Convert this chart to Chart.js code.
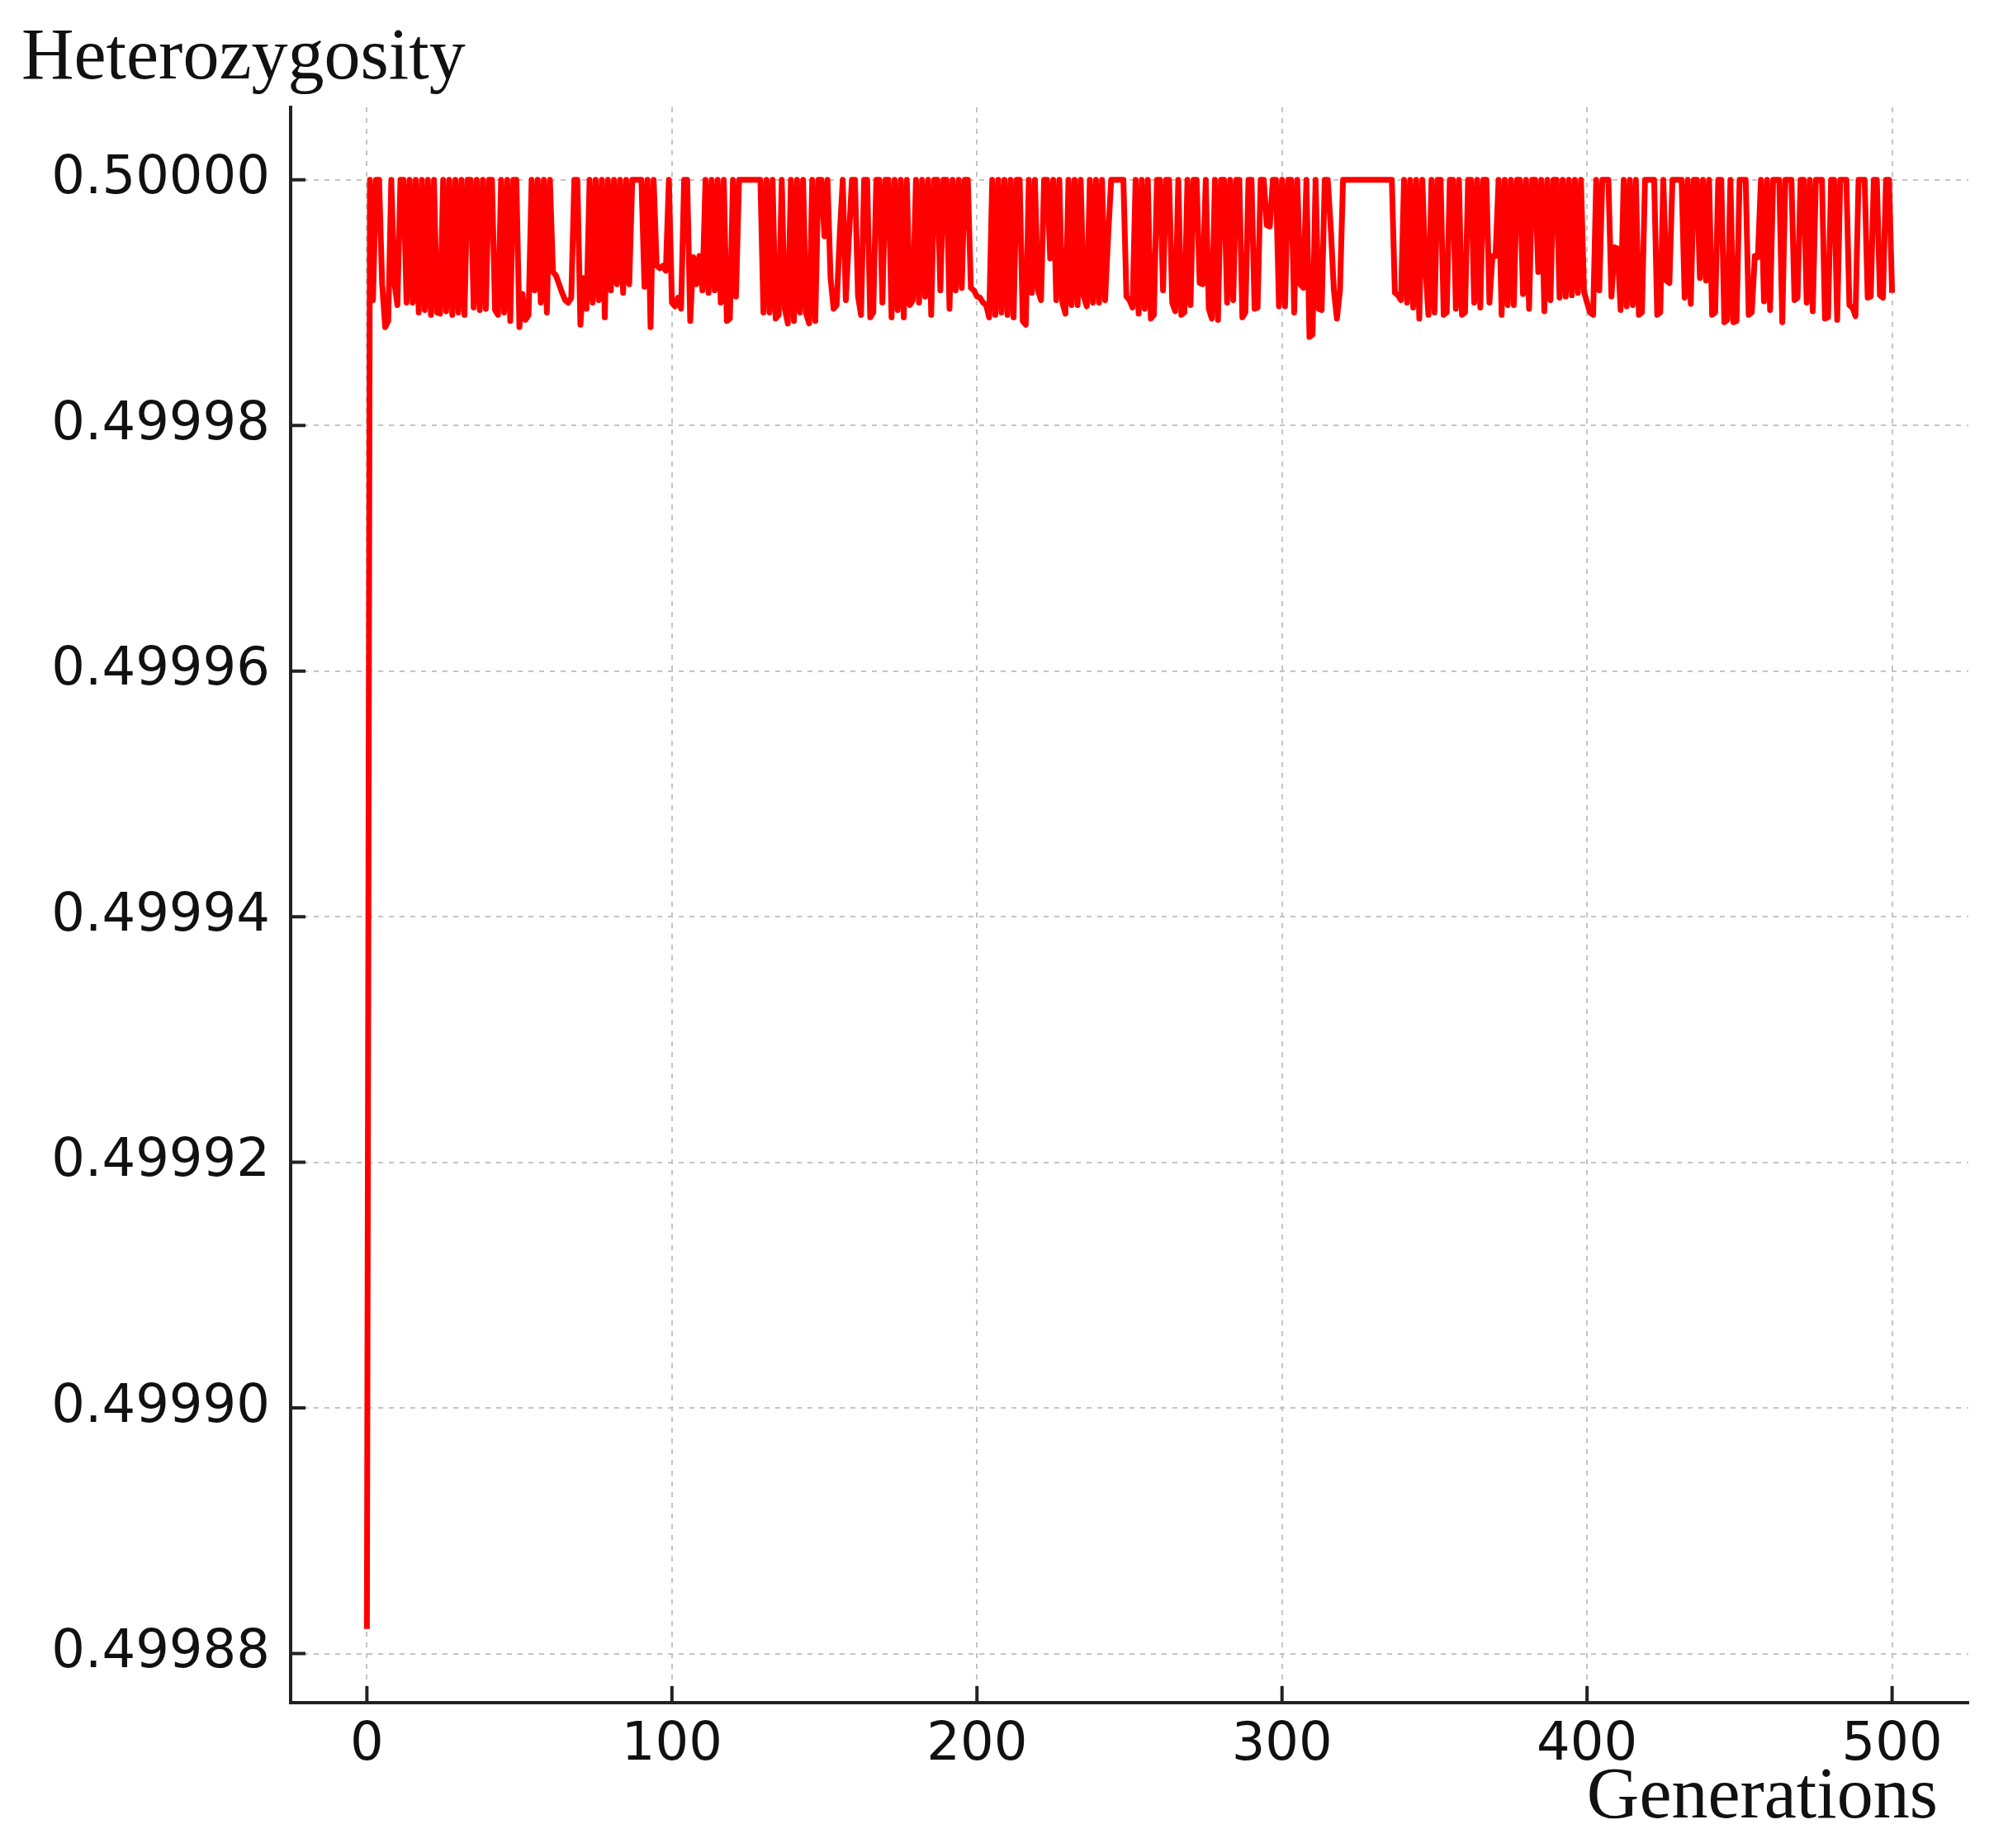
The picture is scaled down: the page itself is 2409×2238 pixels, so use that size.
<!DOCTYPE html>
<html>
<head>
<meta charset="utf-8">
<title>Heterozygosity</title>
<script src="https://cdn.jsdelivr.net/npm/chart.js@4.4.1/dist/chart.umd.min.js"></script>
<style>
  html, body { margin: 0; padding: 0; background: #ffffff; }
  canvas { display: block; }
</style>
</head>
<body>
<canvas id="chart" width="2409" height="2238" style="width:2409px;height:2238px;"></canvas>
<script>
// ---- Data ----
const yTitle = 'Heterozygosity';
const xTitle = 'Generations';

const xTicks = [0, 100, 200, 300, 400, 500];
const xTickLabels = ['0', '100', '200', '300', '400', '500'];
const yTicks = [0.49988, 0.49990, 0.49992, 0.49994, 0.49996, 0.49998, 0.50000];
const yTickLabels = ['0.49988', '0.49990', '0.49992', '0.49994', '0.49996', '0.49998', '0.50000'];

// Heterozygosity per generation, generations 0-99
const hetGen000 = [
  0.499882, 0.5, 0.4999902, 0.5, 0.5, 0.4999915, 0.499988, 0.4999885, 0.5, 0.4999917,
  0.4999898, 0.5, 0.5, 0.49999, 0.5, 0.49999, 0.5, 0.4999892, 0.5, 0.4999894,
  0.5, 0.499989, 0.5, 0.4999892, 0.4999891, 0.5, 0.4999893, 0.5, 0.499989, 0.5,
  0.4999892, 0.5, 0.499989, 0.5, 0.5, 0.4999896, 0.5, 0.4999894, 0.5, 0.4999895,
  0.5, 0.5, 0.4999894, 0.499989, 0.5, 0.4999892, 0.5, 0.4999885, 0.5, 0.5,
  0.499988, 0.4999907, 0.4999886, 0.499989, 0.5, 0.499991, 0.5, 0.49999, 0.5, 0.4999892,
  0.5, 0.4999925, 0.4999922, 0.4999915, 0.4999908, 0.4999902, 0.49999, 0.4999904, 0.5, 0.5,
  0.4999882, 0.499992, 0.4999895, 0.5, 0.49999, 0.5, 0.4999902, 0.5, 0.4999888, 0.5,
  0.499991, 0.5, 0.4999915, 0.5, 0.4999908, 0.5, 0.4999915, 0.5, 0.5, 0.5,
  0.5, 0.4999913, 0.5, 0.499988, 0.5, 0.499993, 0.4999928, 0.499993, 0.4999926, 0.5
];
// generations 100-199
const hetGen100 = [
  0.49999, 0.4999897, 0.4999904, 0.4999895, 0.5, 0.5, 0.4999885, 0.4999937, 0.4999915, 0.4999938,
  0.499991, 0.5, 0.4999908, 0.5, 0.499991, 0.5, 0.49999, 0.5, 0.4999885, 0.4999887,
  0.5, 0.4999905, 0.5, 0.5, 0.5, 0.5, 0.5, 0.5, 0.5, 0.5,
  0.4999892, 0.5, 0.4999892, 0.5, 0.4999887, 0.499989, 0.5, 0.4999895, 0.4999883, 0.5,
  0.4999885, 0.5, 0.4999892, 0.5, 0.4999891, 0.4999883, 0.5, 0.4999885, 0.5, 0.5,
  0.4999954, 0.5, 0.499992, 0.4999895, 0.4999898, 0.4999954, 0.5, 0.4999902, 0.4999952, 0.5,
  0.5, 0.4999905, 0.499989, 0.5, 0.5, 0.4999888, 0.4999892, 0.5, 0.5, 0.49999,
  0.5, 0.5, 0.4999888, 0.5, 0.4999894, 0.5, 0.4999888, 0.5, 0.4999898, 0.4999902,
  0.5, 0.49999, 0.5, 0.4999905, 0.5, 0.499989, 0.5, 0.5, 0.499991, 0.5,
  0.5, 0.4999895, 0.5, 0.499991, 0.5, 0.4999912, 0.5, 0.5, 0.4999912, 0.499991
];
// generations 200-299
const hetGen200 = [
  0.4999905, 0.4999904, 0.49999, 0.4999898, 0.4999888, 0.5, 0.499989, 0.5, 0.4999892, 0.5,
  0.499989, 0.5, 0.4999888, 0.5, 0.5, 0.4999885, 0.4999882, 0.5, 0.4999908, 0.5,
  0.499991, 0.4999902, 0.5, 0.5, 0.4999936, 0.5, 0.4999902, 0.5, 0.49999, 0.4999891,
  0.5, 0.4999898, 0.5, 0.4999898, 0.5, 0.4999905, 0.4999897, 0.5, 0.49999, 0.5,
  0.49999, 0.5, 0.4999902, 0.4999954, 0.5, 0.5, 0.5, 0.5, 0.5, 0.4999905,
  0.4999902, 0.4999896, 0.5, 0.4999891, 0.5, 0.4999895, 0.5, 0.4999887, 0.499989, 0.5,
  0.5, 0.499991, 0.5, 0.5, 0.49999, 0.4999893, 0.5, 0.499989, 0.4999892, 0.5,
  0.4999898, 0.5, 0.5, 0.4999916, 0.4999915, 0.5, 0.4999895, 0.4999887, 0.5, 0.4999886,
  0.5, 0.5, 0.49999, 0.5, 0.4999902, 0.5, 0.5, 0.4999888, 0.4999892, 0.5,
  0.5, 0.4999895, 0.4999896, 0.5, 0.5, 0.4999963, 0.4999962, 0.5, 0.5, 0.4999897
];
// generations 300-399
const hetGen300 = [
  0.5, 0.4999897, 0.5, 0.5, 0.4999892, 0.5, 0.4999915, 0.4999912, 0.5, 0.4999872,
  0.4999874, 0.5, 0.4999895, 0.4999894, 0.5, 0.5, 0.499996, 0.499991, 0.4999887, 0.499991,
  0.5, 0.5, 0.5, 0.5, 0.5, 0.5, 0.5, 0.5, 0.5, 0.5,
  0.5, 0.5, 0.5, 0.5, 0.5, 0.5, 0.5, 0.4999908, 0.4999906, 0.4999902,
  0.5, 0.49999, 0.5, 0.4999896, 0.5, 0.4999887, 0.5, 0.4999929, 0.499989, 0.5,
  0.4999892, 0.5, 0.5, 0.499989, 0.4999892, 0.5, 0.5, 0.4999895, 0.5, 0.499989,
  0.4999892, 0.5, 0.5, 0.49999, 0.5, 0.4999896, 0.5, 0.5, 0.49999, 0.4999938,
  0.4999938, 0.5, 0.499989, 0.5, 0.4999898, 0.5, 0.4999898, 0.5, 0.5, 0.4999907,
  0.5, 0.4999895, 0.5, 0.5, 0.4999925, 0.5, 0.4999893, 0.5, 0.4999902, 0.5,
  0.5, 0.4999904, 0.5, 0.4999905, 0.5, 0.4999906, 0.5, 0.4999908, 0.5, 0.4999909
];
// generations 400-500
const hetGen400 = [
  0.49999, 0.4999892, 0.499989, 0.5, 0.499991, 0.5, 0.5, 0.5, 0.4999905, 0.4999945,
  0.4999944, 0.4999894, 0.5, 0.4999897, 0.5, 0.4999898, 0.5, 0.499989, 0.4999892, 0.5,
  0.5, 0.5, 0.5, 0.499989, 0.4999892, 0.5, 0.4999918, 0.4999916, 0.5, 0.5,
  0.5, 0.5, 0.4999904, 0.5, 0.4999899, 0.5, 0.5, 0.499992, 0.5, 0.4999918,
  0.5, 0.499989, 0.4999892, 0.5, 0.5, 0.4999884, 0.4999886, 0.5, 0.4999884, 0.4999885,
  0.5, 0.5, 0.5, 0.499989, 0.4999892, 0.4999938, 0.4999937, 0.5, 0.4999901, 0.5,
  0.4999894, 0.5, 0.5, 0.5, 0.4999884, 0.5, 0.5, 0.5, 0.4999902, 0.4999904,
  0.5, 0.5, 0.49999, 0.5, 0.4999893, 0.5, 0.5, 0.5, 0.4999887, 0.4999888,
  0.5, 0.5, 0.4999886, 0.5, 0.5, 0.5, 0.4999898, 0.4999896, 0.4999889, 0.5,
  0.5, 0.5, 0.4999904, 0.4999905, 0.5, 0.5, 0.4999906, 0.4999904, 0.5, 0.5,
  0.4999908
];

const heterozygosity = [...hetGen000, ...hetGen100, ...hetGen200, ...hetGen300, ...hetGen400];
// each value's generation number is its position in the series
const points = heterozygosity.map((h, gen) => ({ x: gen, y: h }));

// ---- Plugins: inward tick marks and axis titles ----
const inwardTicks = {
  id: 'inwardTicks',
  afterDraw(chart) {
    const { ctx, chartArea } = chart;
    const xs = chart.scales.x, ys = chart.scales.y;
    ctx.save();
    ctx.strokeStyle = '#222222';
    ctx.lineWidth = 4;
    ctx.beginPath();
    xs.ticks.forEach(t => {
      const px = xs.getPixelForValue(t.value);
      ctx.moveTo(px, chartArea.bottom);
      ctx.lineTo(px, chartArea.bottom - 20);
    });
    ys.ticks.forEach(t => {
      const py = ys.getPixelForValue(t.value);
      ctx.moveTo(chartArea.left, py);
      ctx.lineTo(chartArea.left + 18, py);
    });
    ctx.stroke();
    ctx.restore();
  }
};

const axisTitles = {
  id: 'axisTitles',
  afterDraw(chart) {
    const { ctx, chartArea } = chart;
    ctx.save();
    ctx.fillStyle = '#111111';
    ctx.font = '88px "Liberation Serif", "DejaVu Serif", serif';
    ctx.textBaseline = 'alphabetic';
    ctx.textAlign = 'left';
    ctx.fillText(yTitle, 26, chartArea.top - 35);
    ctx.textAlign = 'right';
    ctx.fillText(xTitle, chartArea.right - 37, chartArea.bottom + 139);
    ctx.restore();
  }
};

const tickFont = { family: '"DejaVu Sans", sans-serif', size: 64 };
const gridStyle = { color: 'rgba(190,190,190,0.9)', lineWidth: 2, drawTicks: false };
const borderStyle = { display: true, color: '#222222', width: 4, dash: [6, 7] };

new Chart(document.getElementById('chart'), {
  type: 'line',
  data: {
    datasets: [{
      label: yTitle,
      data: points,
      borderColor: '#ff0000',
      backgroundColor: '#ff0000',
      borderWidth: 7,
      pointRadius: 0,
      pointHoverRadius: 0,
      tension: 0,
      fill: false,
      borderJoinStyle: 'round',
      borderCapStyle: 'butt'
    }]
  },
  options: {
    responsive: false,
    devicePixelRatio: 1,
    animation: false,
    layout: { padding: { top: 130, right: 25, left: 0, bottom: 0 } },
    plugins: {
      legend: { display: false },
      tooltip: { enabled: false },
      title: { display: false }
    },
    scales: {
      x: {
        type: 'linear',
        min: -25,
        max: 525,
        afterBuildTicks: s => { s.ticks = xTicks.map(v => ({ value: v })); },
        afterFit: s => { s.height = 176; },
        grid: gridStyle,
        border: borderStyle,
        ticks: {
          font: tickFont,
          color: '#111111',
          padding: 14,
          maxRotation: 0,
          autoSkip: false,
          callback: (v, i) => xTickLabels[i]
        }
      },
      y: {
        type: 'linear',
        min: 0.499876,
        max: 0.5000059,
        afterBuildTicks: s => { s.ticks = yTicks.map(v => ({ value: v })); },
        afterFit: s => { s.width = 352; },
        grid: gridStyle,
        border: borderStyle,
        ticks: {
          font: tickFont,
          color: '#111111',
          padding: 25,
          autoSkip: false,
          callback: (v, i) => yTickLabels[i]
        }
      }
    }
  },
  plugins: [inwardTicks, axisTitles]
});
</script>
</body>
</html>
